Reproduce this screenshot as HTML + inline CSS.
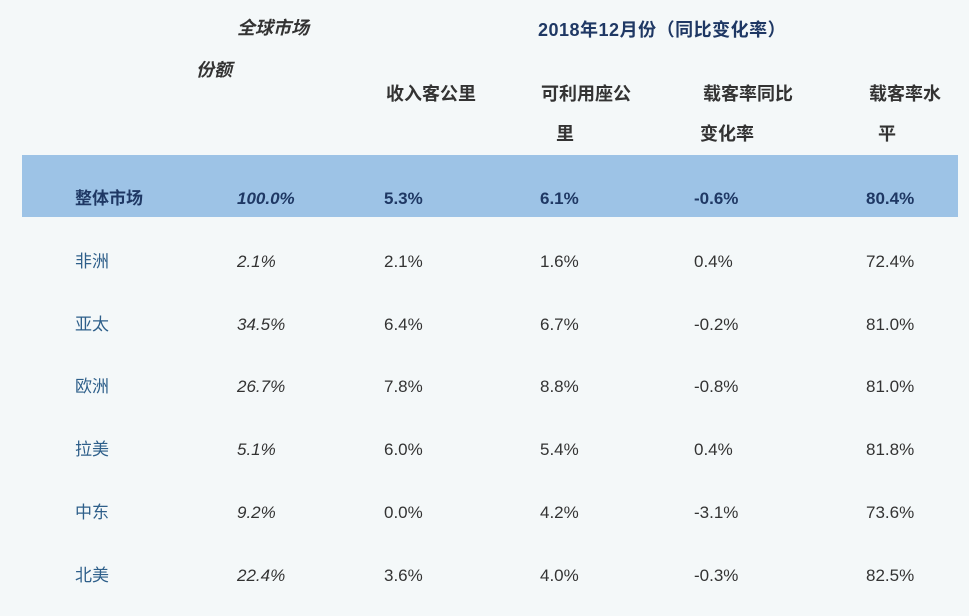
<!DOCTYPE html>
<html><head><meta charset="utf-8"><style>
body{margin:0;width:969px;height:616px;background:#f4f8f9;font-family:"Liberation Sans","Noto Sans CJK SC",sans-serif;position:relative;overflow:hidden}
.t{position:absolute;white-space:nowrap;font-size:17px;line-height:20px;transform:translateY(-50%)}
.h{font-weight:bold;color:#333;font-size:18px}
.band{position:absolute;left:22px;top:155px;width:936px;height:62px;background:#9dc3e6}
.r{color:#2e5f8a}.n{color:#333}.i{font-style:italic}
.hl{color:#1f3864;font-weight:bold}
</style></head><body>
<div class="band"></div>
<div class="t h i" style="left:237px;top:28px">全球市场</div>
<div class="t h i" style="left:196px;top:70px">份额</div>
<div class="t h" style="left:538px;top:30px;color:#1f3864;letter-spacing:0.5px">2018年12月份（同比变化率）</div>
<div class="t h" style="left:386px;top:94px">收入客公里</div>
<div class="t h" style="left:541px;top:94px">可利用座公</div>
<div class="t h" style="left:556px;top:134px">里</div>
<div class="t h" style="left:703px;top:94px">载客率同比</div>
<div class="t h" style="left:700px;top:134px">变化率</div>
<div class="t h" style="left:869px;top:94px">载客率水</div>
<div class="t h" style="left:878px;top:134px">平</div>
<div id="rows"></div>
<script>
const regions=["整体市场","非洲","亚太","欧洲","拉美","中东","北美"];
const share=["100.0%","2.1%","34.5%","26.7%","5.1%","9.2%","22.4%"];
const rpk=["5.3%","2.1%","6.4%","7.8%","6.0%","0.0%","3.6%"];
const ask=["6.1%","1.6%","6.7%","8.8%","5.4%","4.2%","4.0%"];
const plfChange=["-0.6%","0.4%","-0.2%","-0.8%","0.4%","-3.1%","-0.3%"];
const plf=["80.4%","72.4%","81.0%","81.0%","81.8%","73.6%","82.5%"];
const cont=document.getElementById('rows');
regions.forEach((reg,k)=>{
  const y=199+k*62.8;
  const cells=[[reg,75,'r','region'],[share[k],237,'n i','share'],[rpk[k],384,'n','rpk'],[ask[k],540,'n','ask'],[plfChange[k],694,'n','plf-change'],[plf[k],866,'n','plf']];
  cells.forEach(c=>{
    const d=document.createElement('div');
    d.className='t '+c[2]+(k===0?' hl':'');
    d.style.left=c[1]+'px';d.style.top=y+'px';
    d.textContent=c[0];
    
    
    cont.appendChild(d);
  });
});
</script>
</body></html>
